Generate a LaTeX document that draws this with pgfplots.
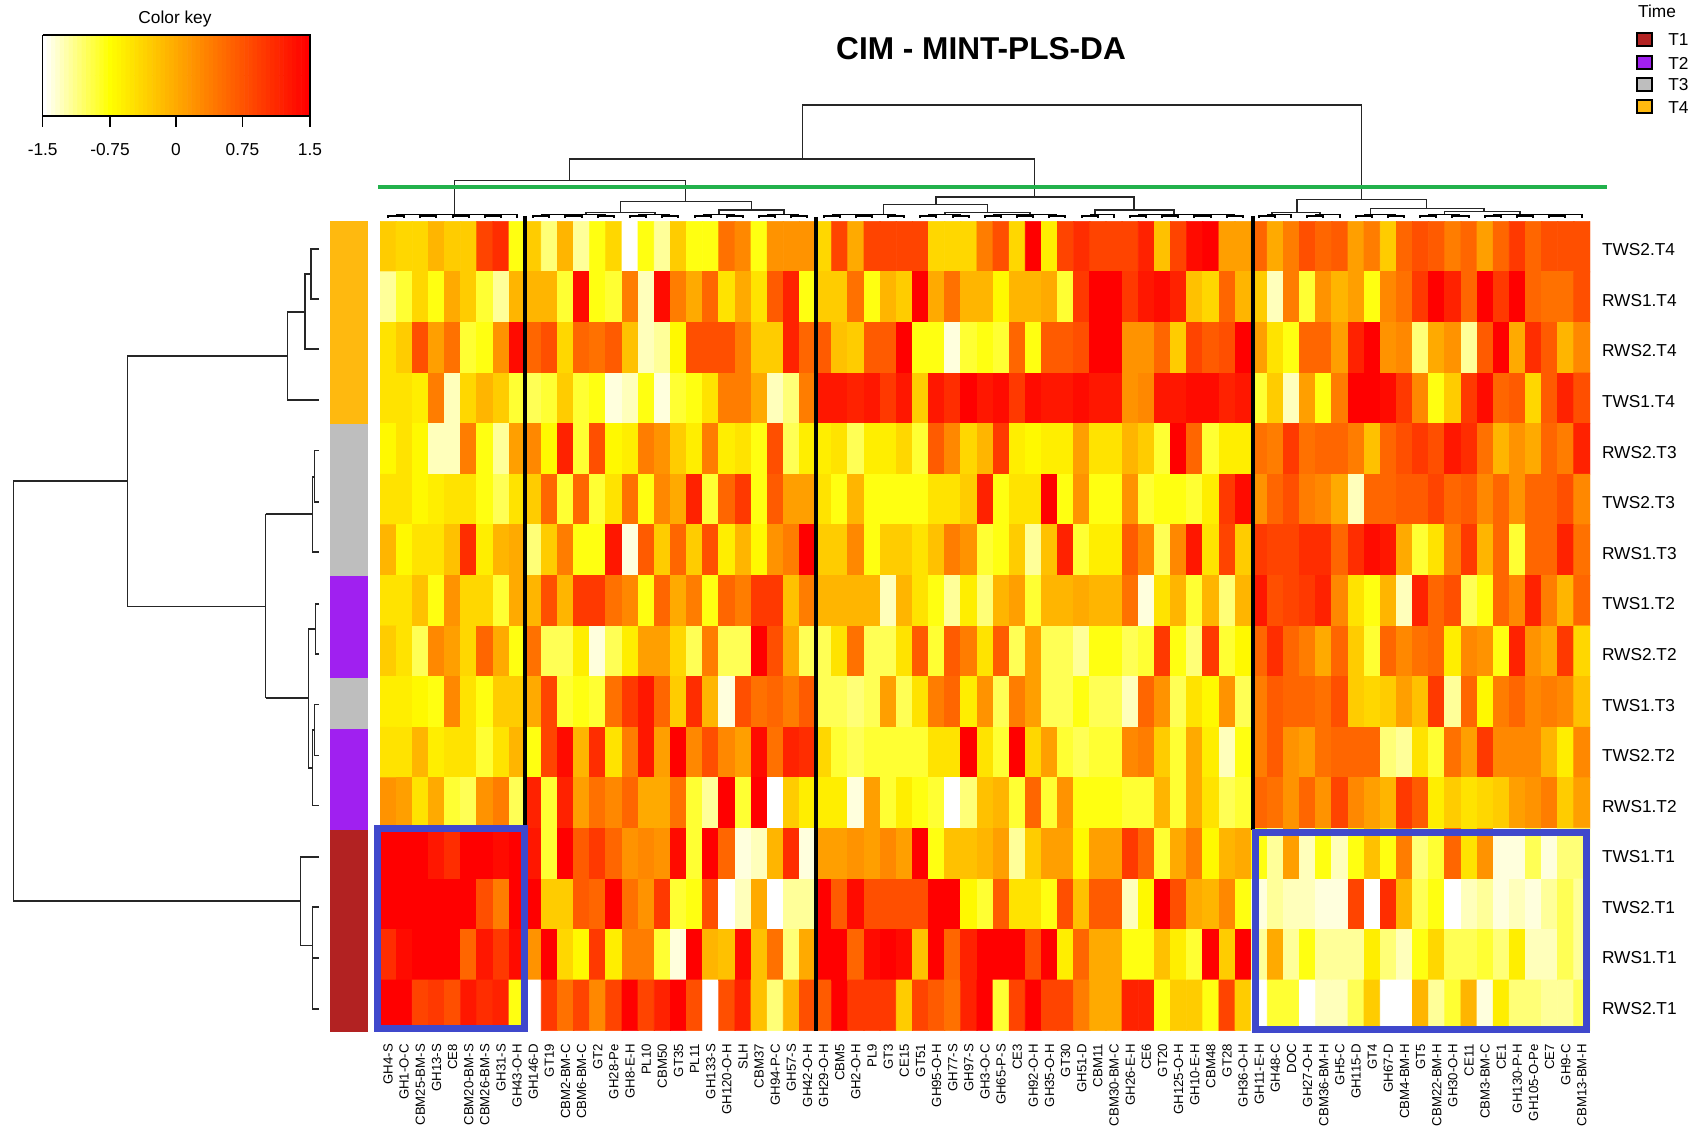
\documentclass[border=0pt]{standalone}
\usepackage{pgfplots}
\pgfplotsset{compat=1.18}
\usepackage{fontspec}
\setmainfont{Liberation Sans}
\definecolor{tfour}{RGB}{255,185,15}
\definecolor{tthree}{RGB}{190,190,190}
\definecolor{ttwo}{RGB}{160,32,240}
\definecolor{tone}{RGB}{178,34,34}
\definecolor{boxblue}{RGB}{63,72,204}
\definecolor{cutgreen}{RGB}{34,177,76}
\newcommand\fa{\fontsize{8.65pt}{10pt}\selectfont}
\pgfplotsset{colormap={ck}{rgb255(0)=(255,255,255); rgb255(3)=(255,255,0); rgb255(12)=(255,0,0)}}
\begin{document}
\begin{tikzpicture}
\useasboundingbox (0,0) rectangle (848pt,563.5pt);
\begin{axis}[at={(190pt,48.15pt)},anchor=south west,scale only axis,width=605pt,height=404.7pt,
 xmin=-0.5,xmax=74.5,ymin=-0.5,ymax=15.5,y dir=reverse,enlargelimits=false,
 colormap name=ck,point meta min=-1.5,point meta max=1.5,
 axis line style={draw=none},major tick length=0pt,tick style={draw=none},
 xtick={0,...,74},ytick={0,...,15},xticklabel pos=bottom,yticklabel pos=right,
 xticklabels={GH4-S,GH1-O-C,CBM25-BM-S,GH13-S,CE8,CBM20-BM-S,CBM26-BM-S,GH31-S,GH43-O-H,GH146-D,GT19,CBM2-BM-C,CBM6-BM-C,GT2,GH28-Pe,GH8-E-H,PL10,CBM50,GT35,PL11,GH133-S,GH120-O-H,SLH,CBM37,GH94-P-C,GH57-S,GH42-O-H,GH29-O-H,CBM5,GH2-O-H,PL9,GT3,CE15,GT51,GH95-O-H,GH77-S,GH97-S,GH3-O-C,GH65-P-S,CE3,GH92-O-H,GH35-O-H,GT30,GH51-D,CBM11,CBM30-BM-C,GH26-E-H,CE6,GT20,GH125-O-H,GH10-E-H,CBM48,GT28,GH36-O-H,GH11-E-H,GH48-C,DOC,GH27-O-H,CBM36-BM-H,GH5-C,GH115-D,GT4,GH67-D,CBM4-BM-H,GT5,CBM22-BM-H,GH30-O-H,CE11,CBM3-BM-C,CE1,GH130-P-H,GH105-O-Pe,CE7,GH9-C,CBM13-BM-H},
 yticklabels={TWS2.T4,RWS1.T4,RWS2.T4,TWS1.T4,RWS2.T3,TWS2.T3,RWS1.T3,TWS1.T2,RWS2.T2,TWS1.T3,TWS2.T2,RWS1.T2,TWS1.T1,TWS2.T1,RWS1.T1,RWS2.T1},
 x tick label style={rotate=90,anchor=east,inner sep=0pt,font=\fontsize{6.6pt}{7pt}\selectfont},
 y tick label style={anchor=west,inner sep=0pt,yshift=-1.6pt,font=\fa},
 xticklabel shift=6.5pt,yticklabel shift=5.8pt,
]
\addplot[matrix plot*,mesh/cols=75,point meta=explicit] table[header=false,row sep=crcr,x expr={\coordindex-75*floor((\coordindex+0.5)/75)},y expr={floor((\coordindex+0.5)/75)},meta expr={\thisrowno{0}/10}] {
-3\\-4\\-4\\-1\\-3\\-3\\9\\11\\-8\\
-3\\-11\\-1\\-12\\-8\\-4\\-15\\-8\\-12\\-3\\-8\\-8\\5\\3\\-8\\2\\2\\2\\
-4\\9\\0\\9\\9\\9\\9\\-4\\-4\\-4\\4\\8\\-4\\15\\-6\\9\\11\\9\\9\\9\\12\\-2\\9\\14\\15\\1\\1\\
6\\0\\4\\8\\6\\7\\1\\4\\-3\\6\\8\\7\\4\\6\\1\\6\\10\\6\\8\\8\\8\\
-12\\-9\\-4\\-8\\0\\-3\\-9\\-12\\-1\\
-1\\-1\\-9\\14\\-8\\-9\\4\\-13\\14\\4\\0\\6\\-5\\0\\-5\\7\\12\\-8\\
-3\\-3\\5\\-8\\-1\\-3\\15\\0\\5\\-1\\-1\\-7\\-1\\-1\\0\\-9\\10\\15\\15\\10\\13\\14\\12\\-2\\-4\\6\\-1\\
-3\\-13\\4\\-9\\2\\-1\\1\\-8\\3\\5\\10\\15\\12\\6\\15\\10\\15\\6\\5\\5\\8\\
-5\\-3\\8\\1\\5\\-9\\-8\\2\\14\\
6\\8\\-4\\6\\5\\7\\-2\\-13\\-12\\-7\\8\\8\\8\\4\\-3\\-3\\12\\6\\
7\\-2\\-3\\7\\7\\15\\-8\\-8\\-14\\-9\\-8\\-9\\6\\-8\\7\\7\\8\\15\\15\\2\\2\\6\\-3\\9\\7\\8\\15\\
1\\-5\\-8\\6\\6\\1\\12\\15\\2\\3\\-11\\0\\2\\-12\\7\\15\\0\\11\\7\\-1\\3\\
-5\\-5\\-6\\4\\-13\\-4\\-1\\-3\\-9\\
-10\\-9\\-3\\-9\\-8\\-14\\-13\\-8\\-14\\-9\\-8\\-5\\4\\4\\0\\-13\\-11\\4\\
13\\13\\12\\13\\10\\13\\-3\\13\\11\\15\\13\\14\\10\\14\\13\\13\\14\\13\\13\\2\\3\\13\\13\\14\\14\\12\\13\\
-9\\-3\\-13\\1\\-8\\4\\15\\15\\14\\10\\3\\-8\\-3\\10\\14\\6\\7\\-4\\7\\12\\8\\
-7\\-5\\-7\\-13\\-13\\4\\-8\\-12\\1\\
3\\-7\\12\\-9\\8\\-7\\-6\\4\\2\\-3\\-6\\4\\-6\\-5\\-8\\8\\-10\\-6\\
-6\\-5\\-10\\-6\\-6\\-4\\-9\\7\\3\\-4\\-1\\10\\-6\\-7\\-6\\-6\\1\\-5\\-5\\-1\\-3\\-9\\15\\6\\-9\\-6\\-6\\
5\\4\\10\\5\\6\\6\\4\\-2\\6\\8\\10\\8\\13\\11\\5\\-1\\2\\0\\6\\4\\12\\
-5\\-5\\-7\\-6\\-5\\-5\\-8\\-10\\-5\\
-3\\6\\-9\\6\\-9\\-5\\5\\-8\\3\\0\\12\\-9\\6\\10\\-8\\7\\1\\1\\
-5\\-8\\-1\\-8\\-8\\-8\\-8\\-5\\-5\\-3\\12\\-8\\-5\\-5\\15\\-8\\2\\-8\\-8\\2\\-9\\-8\\-8\\-9\\-6\\10\\14\\
2\\6\\8\\4\\3\\0\\-13\\6\\6\\7\\7\\9\\6\\7\\3\\6\\2\\6\\6\\8\\3\\
-1\\-7\\-5\\-5\\-2\\11\\-6\\-1\\0\\
-11\\-3\\4\\-8\\-8\\13\\-14\\7\\-3\\6\\-3\\8\\-6\\-1\\-7\\2\\4\\15\\
-3\\-3\\3\\-8\\-3\\-3\\-5\\-2\\4\\2\\-9\\-8\\-3\\-12\\-2\\12\\-9\\-6\\-6\\7\\3\\-10\\3\\13\\-5\\9\\-3\\
10\\9\\9\\11\\11\\6\\11\\14\\13\\0\\-9\\-5\\4\\10\\-1\\6\\-9\\6\\6\\12\\5\\
-5\\-5\\-2\\-8\\2\\-4\\-4\\-9\\0\\
-1\\8\\-1\\10\\10\\5\\3\\-8\\6\\0\\4\\-8\\6\\4\\10\\10\\-2\\4\\
-1\\-1\\-1\\-1\\-13\\-1\\-5\\-8\\-12\\-6\\-11\\-1\\1\\-9\\-1\\-1\\0\\-1\\-1\\5\\-14\\-5\\-1\\-9\\-1\\-11\\-1\\
13\\8\\9\\10\\12\\3\\-5\\-8\\-1\\-13\\12\\6\\8\\-10\\-8\\6\\3\\12\\4\\-1\\6\\
-3\\-5\\-10\\3\\1\\-4\\6\\0\\-8\\
5\\-10\\-10\\-6\\-14\\-10\\-6\\1\\1\\-4\\-10\\4\\-10\\-10\\15\\8\\0\\-10\\
-10\\-5\\5\\-10\\-10\\-5\\7\\-9\\7\\4\\-5\\7\\-10\\1\\-10\\-10\\-12\\-8\\-8\\-10\\-9\\10\\-8\\-11\\10\\-9\\-7\\
6\\11\\6\\4\\0\\6\\-3\\-9\\6\\3\\5\\6\\-6\\3\\2\\-8\\12\\2\\0\\10\\-4\\
-6\\-6\\-7\\-8\\3\\-5\\-8\\-3\\-3\\
0\\9\\-9\\-8\\-9\\5\\10\\13\\6\\-3\\11\\-1\\-14\\8\\5\\6\\4\\7\\
-10\\-10\\-11\\-10\\1\\-10\\-5\\4\\6\\-6\\2\\-10\\4\\1\\-10\\-10\\-8\\-10\\-10\\-13\\6\\2\\-10\\-5\\-7\\2\\-10\\
4\\7\\6\\6\\5\\8\\-3\\-4\\-3\\1\\-2\\10\\-12\\6\\-7\\4\\6\\3\\4\\3\\-2\\
-5\\-5\\-1\\-6\\-5\\-5\\-9\\-5\\-1\\
-8\\9\\14\\-1\\11\\-5\\4\\13\\1\\15\\3\\8\\3\\1\\14\\5\\12\\11\\
-4\\-9\\-10\\-9\\-9\\-9\\-9\\-5\\-5\\15\\-5\\-9\\15\\-4\\1\\-9\\-10\\-9\\-9\\3\\4\\-3\\-9\\0\\-6\\-13\\-8\\
4\\7\\2\\1\\5\\6\\6\\6\\-11\\-12\\-5\\-9\\5\\1\\10\\3\\3\\3\\-1\\-6\\3\\
2\\1\\-5\\0\\-9\\-10\\2\\4\\-10\\
12\\-9\\12\\1\\5\\3\\6\\0\\0\\5\\-9\\-12\\15\\-9\\15\\-15\\-3\\-6\\
-6\\-6\\-14\\1\\-9\\-6\\-8\\-9\\-15\\-11\\-2\\-1\\-9\\6\\-9\\2\\-8\\-8\\-8\\-9\\-9\\-1\\-9\\0\\-5\\-10\\-9\\
6\\5\\2\\6\\2\\9\\3\\1\\-1\\10\\7\\-6\\-3\\-5\\-4\\-3\\1\\2\\4\\-3\\1\\
15\\15\\15\\13\\11\\15\\15\\14\\15\\
13\\-9\\15\\7\\10\\6\\2\\3\\2\\14\\-9\\15\\6\\-14\\-13\\-1\\11\\-14\\
1\\1\\2\\1\\3\\1\\15\\-8\\-2\\-2\\-1\\1\\-12\\-3\\1\\1\\-7\\1\\1\\10\\6\\-9\\0\\4\\-7\\-1\\0\\
-8\\-12\\1\\-13\\-8\\-13\\-8\\-2\\-8\\4\\-11\\-9\\6\\-5\\2\\-14\\-14\\-10\\-14\\-11\\-11\\
15\\15\\15\\15\\15\\15\\8\\4\\15\\
15\\-3\\-3\\7\\6\\15\\5\\2\\10\\-9\\-8\\8\\-15\\-13\\0\\-15\\-12\\-12\\
15\\7\\14\\8\\8\\8\\8\\15\\15\\-7\\-9\\7\\-5\\-5\\-8\\8\\-2\\7\\7\\-13\\-7\\15\\8\\0\\-1\\3\\-8\\
-14\\-12\\-13\\-13\\-14\\-14\\9\\-15\\11\\-1\\-10\\-8\\-15\\-13\\-12\\-14\\-13\\-14\\-12\\-10\\-12\\
11\\14\\15\\15\\15\\6\\13\\10\\14\\
2\\15\\-4\\-7\\10\\-6\\4\\4\\-9\\-14\\15\\-1\\-2\\14\\-2\\5\\-11\\0\\
15\\15\\6\\14\\15\\14\\-2\\15\\6\\12\\15\\15\\15\\8\\15\\-6\\6\\0\\0\\-8\\-8\\-2\\-6\\-9\\15\\-3\\15\\
-12\\0\\-12\\-8\\-12\\-12\\-12\\-6\\-11\\-13\\-8\\-4\\-10\\-10\\-9\\-11\\-6\\-13\\-13\\-10\\-12\\
15\\15\\9\\10\\8\\13\\11\\12\\-8\\
-15\\10\\5\\9\\3\\9\\15\\9\\12\\15\\8\\-15\\8\\12\\-2\\-11\\-1\\8\\
7\\15\\10\\10\\10\\-3\\9\\7\\5\\12\\15\\-9\\9\\15\\9\\9\\4\\0\\0\\12\\12\\-8\\-3\\-3\\-8\\9\\-3\\
-15\\-9\\-9\\-15\\-13\\-13\\-10\\-3\\-15\\-15\\-1\\-12\\-9\\-1\\-14\\-6\\-11\\-11\\-12\\-12\\-10\\
};
\end{axis}
\begin{axis}[at={(0pt,0pt)},anchor=south west,scale only axis,width=848pt,height=563.5pt,
 xmin=0,xmax=1696,ymin=0,ymax=1127,y dir=reverse,hide axis,clip=false,
 unbounded coords=jump,colormap name=ck,point meta min=-1.5,point meta max=1.5]
% colour key
\addplot[matrix plot*,mesh/cols=61,point meta=explicit] table[header=false,row sep=crcr,x expr={44.9+4.382*(\coordindex-61*floor((\coordindex+0.5)/61))},y expr={55.25+40.5*floor((\coordindex+0.5)/61)},meta expr={\thisrowno{0}/10}] {
-15\\-14.5\\-14\\-13.5\\-13\\-12.5\\-12\\-11.5\\-11\\-10.5\\-10\\-9.5\\-9\\-8.5\\-8\\-7.5\\-7\\-6.5\\-6\\-5.5\\-5\\-4.5\\-4\\-3.5\\-3\\-2.5\\-2\\-1.5\\-1\\-.5\\0\\.5\\1\\1.5\\2\\2.5\\3\\3.5\\4\\4.5\\5\\5.5\\6\\6.5\\7\\7.5\\8\\8.5\\9\\9.5\\10\\10.5\\11\\11.5\\12\\12.5\\13\\13.5\\14\\14.5\\15\\
-15\\-14.5\\-14\\-13.5\\-13\\-12.5\\-12\\-11.5\\-11\\-10.5\\-10\\-9.5\\-9\\-8.5\\-8\\-7.5\\-7\\-6.5\\-6\\-5.5\\-5\\-4.5\\-4\\-3.5\\-3\\-2.5\\-2\\-1.5\\-1\\-.5\\0\\.5\\1\\1.5\\2\\2.5\\3\\3.5\\4\\4.5\\5\\5.5\\6\\6.5\\7\\7.5\\8\\8.5\\9\\9.5\\10\\10.5\\11\\11.5\\12\\12.5\\13\\13.5\\14\\14.5\\15\\
};
\addplot[black,line width=.6pt] coordinates {(42.7,35)(310,35)(310,116)(42.7,116)(42.7,35)(nan,nan)(42.7,116)(42.7,127)(nan,nan)(110,116)(110,127)(nan,nan)(176,116)(176,127)(nan,nan)(242.5,116)(242.5,127)(nan,nan)(310,116)(310,127)};
\node[font=\fa] at (axis cs:175,19) {Color key};
\node[font=\fa] at (axis cs:42.7,150) {-1.5};
\node[font=\fa] at (axis cs:110,150) {-0.75};
\node[font=\fa] at (axis cs:176,150) {0};
\node[font=\fa] at (axis cs:242.5,150) {0.75};
\node[font=\fa] at (axis cs:310,150) {1.5};
% title
\node[font=\fontsize{15.8pt}{18pt}\selectfont\bfseries] at (axis cs:981,49) {CIM - MINT-PLS-DA};
% legend
\node[font=\fa] at (axis cs:1657,11) {Time};
\addplot[fill=tone,draw=black,line width=.6pt] coordinates {(1637,33)(1652,33)(1652,46)(1637,46)} -- cycle;
\addplot[fill=ttwo,draw=black,line width=.6pt] coordinates {(1637,56)(1652,56)(1652,69)(1637,69)} -- cycle;
\addplot[fill=tthree,draw=black,line width=.6pt] coordinates {(1637,78)(1652,78)(1652,91)(1637,91)} -- cycle;
\addplot[fill=tfour,draw=black,line width=.6pt] coordinates {(1637,100)(1652,100)(1652,113)(1637,113)} -- cycle;
\node[font=\fa,anchor=west,inner sep=0pt] at (axis cs:1668,40) {T1};
\node[font=\fa,anchor=west,inner sep=0pt] at (axis cs:1668,63) {T2};
\node[font=\fa,anchor=west,inner sep=0pt] at (axis cs:1668,85) {T3};
\node[font=\fa,anchor=west,inner sep=0pt] at (axis cs:1668,108) {T4};
% side colour bar
\addplot[fill=tfour,draw=none] coordinates {(329.7,221.3)(367.7,221.3)(367.7,424.5)(329.7,424.5)} -- cycle;
\addplot[fill=tthree,draw=none] coordinates {(329.7,424.5)(367.7,424.5)(367.7,576)(329.7,576)} -- cycle;
\addplot[fill=ttwo,draw=none] coordinates {(329.7,576)(367.7,576)(367.7,677.5)(329.7,677.5)} -- cycle;
\addplot[fill=tthree,draw=none] coordinates {(329.7,677.5)(367.7,677.5)(367.7,729)(329.7,729)} -- cycle;
\addplot[fill=ttwo,draw=none] coordinates {(329.7,729)(367.7,729)(367.7,830)(329.7,830)} -- cycle;
\addplot[fill=tone,draw=none] coordinates {(329.7,830)(367.7,830)(367.7,1031.5)(329.7,1031.5)} -- cycle;
% row dendrogram
\addplot[black!85,line width=.55pt] coordinates {
(319,249)(311,249)(311,299)(319,299)(nan,nan)
(311,274)(305,274)(305,349)(319,349)(nan,nan)
(305,312)(287.3,312)(287.3,400)(319,400)(nan,nan)
(287.3,356)(127.7,356)(127.7,606.5)(265.7,606.5)(nan,nan)
(127.7,481)(13.3,481)(13.3,901)(300.7,901)(nan,nan)
(265.7,514)(265.7,698)(nan,nan)
(265.7,514)(312.7,514)(nan,nan)
(319,450.5)(314.3,450.5)(314.3,502)(319,502)(nan,nan)
(314.3,477)(312.7,477)(312.7,552)(319,552)(nan,nan)
(265.7,698)(308.3,698)(nan,nan)
(319,604)(315.7,604)(315.7,654)(319,654)(nan,nan)
(315.7,629)(308.3,629)(308.3,768)(312.7,768)(nan,nan)
(319,704.7)(314.3,704.7)(314.3,755.6)(319,755.6)(nan,nan)
(314.3,730)(312.7,730)(312.7,805.5)(319,805.5)(nan,nan)
(319,857)(300.7,857)(300.7,945.7)(312.7,945.7)(nan,nan)
(319,907)(312.7,907)(312.7,1009)(319,1009)(nan,nan)
(312.7,958)(319,958)
};
% column dendrogram: upper merges
\addplot[black!85,line width=.55pt] coordinates {
(802.6,159)(802.6,105)(1361.8,105)(1361.8,199.7)(nan,nan)
(569.6,180.7)(569.6,159)(1034.7,159)(1034.7,197)(nan,nan)
(454.8,214.6)(454.8,180.7)(685.6,180.7)(685.6,201.3)(nan,nan)
(620.9,212.7)(620.9,201.3)(751.7,201.3)(751.7,210)(nan,nan)
(586,214.6)(586,212.7)(655,212.7)(655,214.6)(nan,nan)
(719,214.6)(719,210)(784,210)(784,214.6)(nan,nan)
(936,204.3)(936,197)(1134,197)(1134,210)(nan,nan)
(883.4,214.6)(883.4,204.3)(987.4,204.3)(987.4,212.7)(nan,nan)
(945,214.6)(945,212.7)(1030,212.7)(1030,214.6)(nan,nan)
(1095,214.6)(1095,210)(1174,210)(1174,214.6)(nan,nan)
(1297,212.7)(1297,199.7)(1426.6,199.7)(1426.6,208.7)(nan,nan)
(1272,214.6)(1272,212.7)(1320,212.7)(1320,214.6)(nan,nan)
(1370.7,214.6)(1370.7,208.7)(1484,208.7)(1484,211.7)(nan,nan)
(1444.8,214.6)(1444.8,211.7)(1520,211.7)(1520,214.6)
};
% column dendrogram: low merges
\addplot[black,line width=.6pt] coordinates {
(396,214.6)(517,214.6)(517,218)(nan,nan)
(541,214.6)(606,214.6)(nan,nan)(638,214.6)(670,214.6)(nan,nan)
(703,214.6)(735,214.6)(nan,nan)(767,214.6)(799,214.6)(nan,nan)
(832,214.6)(896,214.6)(nan,nan)(928,214.6)(961,214.6)(nan,nan)
(993,214.6)(1057,214.6)(nan,nan)(1090,214.6)(1114,214.6)(1114,218)(nan,nan)
(1138,214.6)(1235,214.6)(nan,nan)(1267,214.6)(1291,214.6)(1291,218)(nan,nan)
(1315,214.6)(1340,214.6)(1340,218)(nan,nan)(1364,214.6)(1396,214.6)(nan,nan)
(1428,214.6)(1460,214.6)(nan,nan)(1493,214.6)(1582,214.6)(1582,218)(nan,nan)
(388,218)(388,216)(404,216)(404,218)(nan,nan)(420,218)(420,216)(436,216)(436,218)(nan,nan)
(453,218)(453,216)(469,216)(469,218)(nan,nan)(485,218)(485,216)(501,216)(501,218)(nan,nan)
(533,218)(533,216)(549,216)(549,218)(nan,nan)(565,218)(565,216)(582,216)(582,218)(nan,nan)
(598,218)(598,216)(614,216)(614,218)(nan,nan)(630,218)(630,216)(646,216)(646,218)(nan,nan)
(662,218)(662,216)(678,216)(678,218)(nan,nan)(695,218)(695,216)(711,216)(711,218)(nan,nan)
(727,218)(727,216)(743,216)(743,218)(nan,nan)(759,218)(759,216)(775,216)(775,218)(nan,nan)
(791,218)(791,216)(807,216)(807,218)(nan,nan)(824,218)(824,216)(840,216)(840,218)(nan,nan)
(856,218)(856,216)(872,216)(872,218)(nan,nan)(888,218)(888,216)(904,216)(904,218)(nan,nan)
(920,218)(920,216)(936,216)(936,218)(nan,nan)(953,218)(953,216)(969,216)(969,218)(nan,nan)
(985,218)(985,216)(1001,216)(1001,218)(nan,nan)(1017,218)(1017,216)(1033,216)(1033,218)(nan,nan)
(1049,218)(1049,216)(1065,216)(1065,218)(nan,nan)(1082,218)(1082,216)(1098,216)(1098,218)(nan,nan)
(1130,218)(1130,216)(1146,216)(1146,218)(nan,nan)(1162,218)(1162,216)(1178,216)(1178,218)(nan,nan)
(1194,218)(1194,216)(1211,216)(1211,218)(nan,nan)(1227,218)(1227,216)(1243,216)(1243,218)(nan,nan)
(1259,218)(1259,216)(1275,216)(1275,218)(nan,nan)(1307,218)(1307,216)(1323,216)(1323,218)(nan,nan)
(1356,218)(1356,216)(1372,216)(1372,218)(nan,nan)(1388,218)(1388,216)(1404,216)(1404,218)(nan,nan)
(1420,218)(1420,216)(1436,216)(1436,218)(nan,nan)(1452,218)(1452,216)(1469,216)(1469,218)(nan,nan)
(1485,218)(1485,216)(1501,216)(1501,218)(nan,nan)(1517,218)(1517,216)(1533,216)(1533,218)(nan,nan)
(1549,218)(1549,216)(1565,216)(1565,218)
};
% cut line and cluster separators
\addplot[cutgreen,line width=2pt] coordinates {(378,187)(1607,187)};
\addplot[black,line width=2pt] coordinates {(525.2,216)(525.2,826)(nan,nan)(816,217)(816,1031)(nan,nan)(1253.3,216)(1253.3,830)};
% highlight boxes
\addplot[boxblue,line width=3.5pt] coordinates {(377.3,828.7)(524,828.7)(524,1028.3)(377.3,1028.3)} -- cycle;
\addplot[boxblue,line width=3.5pt] coordinates {(1255,832.3)(1586.3,832.3)(1586.3,1029.7)(1255,1029.7)} -- cycle;
\end{axis}
\end{tikzpicture}
\end{document}
